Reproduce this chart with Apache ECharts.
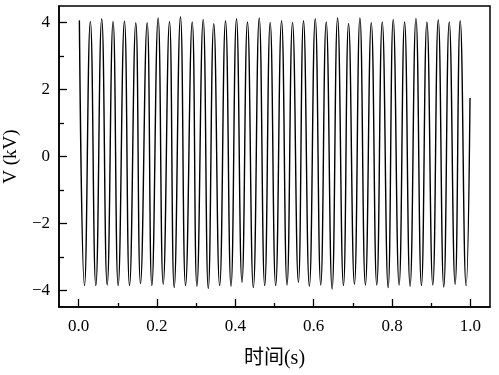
<!DOCTYPE html>
<html>
<head>
<meta charset="utf-8">
<script src="https://cdn.jsdelivr.net/npm/echarts@6/dist/echarts.min.js"></script>
<style>
  html, body { margin: 0; padding: 0; background: #fff; }
  #chart { width: 499px; height: 375px; }
</style>
</head>
<body>
<div id="chart"></div>
<script>
// peaks and troughs (time in s, voltage in kV)
const peakTimes = [0.002, 0.030, 0.059, 0.088, 0.117, 0.146, 0.175, 0.203, 0.232, 0.260, 0.290, 0.318,
    0.345, 0.375, 0.403, 0.431, 0.461, 0.489, 0.518, 0.546, 0.574, 0.604, 0.632, 0.661,
    0.689, 0.718, 0.747, 0.775, 0.803, 0.832, 0.861, 0.889, 0.918, 0.946, 0.974];
const peakVolts = [4.07, 4.04, 4.12, 4.04, 4.05, 4.00, 4.00, 4.14, 4.04, 4.18, 4.02, 4.10,
    3.97, 4.06, 4.12, 4.02, 4.14, 4.01, 4.06, 4.01, 4.06, 4.12, 4.02, 4.14,
    3.98, 4.14, 4.00, 4.02, 4.10, 4.02, 4.13, 4.02, 4.09, 4.02, 4.06];
const troughTimes = [0.015, 0.044, 0.073, 0.101, 0.130, 0.158, 0.187, 0.216, 0.244, 0.273, 0.302,
    0.331, 0.360, 0.389, 0.417, 0.446, 0.475, 0.503, 0.532, 0.561, 0.589, 0.618, 0.647,
    0.676, 0.704, 0.732, 0.761, 0.790, 0.818, 0.846, 0.875, 0.904, 0.932, 0.961, 0.989];
const troughVolts = [-3.86, -3.86, -3.84, -3.86, -3.86, -3.80, -3.86, -3.82, -3.92, -3.86, -3.88,
    -3.95, -3.86, -3.88, -3.76, -3.92, -3.86, -3.86, -3.84, -3.76, -3.88, -3.84, -3.96,
    -3.86, -3.82, -3.84, -3.84, -3.92, -3.84, -3.88, -3.86, -3.84, -3.90, -3.82, -3.86];
const endPoint = [0.999, 1.75];

const xMajor = [0, 0.2, 0.4, 0.6, 0.8, 1.0];
const xMinor = [0.1, 0.3, 0.5, 0.7, 0.9];
const yMajor = [-4, -2, 0, 2, 4];
const yMinor = [-3, -1, 1, 3];

const trace = [];
for (let i = 0; i < peakTimes.length; i++) {
    trace.push([peakTimes[i], peakVolts[i]]);
    trace.push([troughTimes[i], troughVolts[i]]);
}
trace.push(endPoint);

const chart = echarts.init(document.getElementById('chart'));

const serif = '"Liberation Serif", "DejaVu Serif", serif';
const axisLine = { show: true, onZero: false, lineStyle: { color: '#000', width: 1.5 } };
const noLine = { show: false, onZero: false };

const option = {
    animation: false,
    grid: {
        left: 59, right: 9, top: 6, bottom: 68,
        outerBoundsMode: 'none',
        containLabel: false,
        show: true, borderColor: '#000', borderWidth: 1.5
    },
    xAxis: [
        {
            type: 'value',
            min: -0.05,
            max: 1.05,
            axisLine: axisLine,
            splitLine: { show: false },
            axisTick: { inside: true, length: 8, lineStyle: { color: '#000', width: 1.3 }, customValues: xMajor },
            axisLabel: {
                customValues: xMajor,
                color: '#000', fontSize: 17, fontFamily: serif, margin: 11,
                formatter: (v) => v.toFixed(1)
            },
            name: '时间(s)',
            nameLocation: 'middle',
            nameGap: 42,
            nameTextStyle: { color: '#000', fontSize: 20, fontFamily: '"Liberation Serif", "Noto Sans CJK SC", serif' }
        },
        {
            type: 'value',
            position: 'bottom',
            min: -0.05,
            max: 1.05,
            axisLine: noLine,
            splitLine: { show: false },
            axisTick: { inside: true, length: 4, lineStyle: { color: '#000', width: 1.3 }, customValues: xMinor },
            axisLabel: { show: false }
        }
    ],
    yAxis: [
        {
            type: 'value',
            min: -4.5,
            max: 4.5,
            axisLine: axisLine,
            splitLine: { show: false },
            axisTick: { inside: true, length: 8, lineStyle: { color: '#000', width: 1.3 }, customValues: yMajor },
            axisLabel: {
                customValues: yMajor,
                color: '#000', fontSize: 17, fontFamily: serif, margin: 9,
                formatter: (v) => String(v).replace('-', '\u2212')
            },
            name: 'V (kV)',
            nameLocation: 'middle',
            nameGap: 32,
            nameTextStyle: { color: '#000', fontSize: 19, fontFamily: serif }
        },
        {
            type: 'value',
            position: 'left',
            min: -4.5,
            max: 4.5,
            axisLine: noLine,
            splitLine: { show: false },
            axisTick: { inside: true, length: 5, lineStyle: { color: '#000', width: 1.3 }, customValues: yMinor },
            axisLabel: { show: false }
        }
    ],
    series: [
        {
            type: 'line',
            data: trace,
            showSymbol: false,
            smooth: 0.5,
            lineStyle: { color: '#000', width: 1.4 }
        }
    ]
};

chart.setOption(option);
</script>
</body>
</html>
